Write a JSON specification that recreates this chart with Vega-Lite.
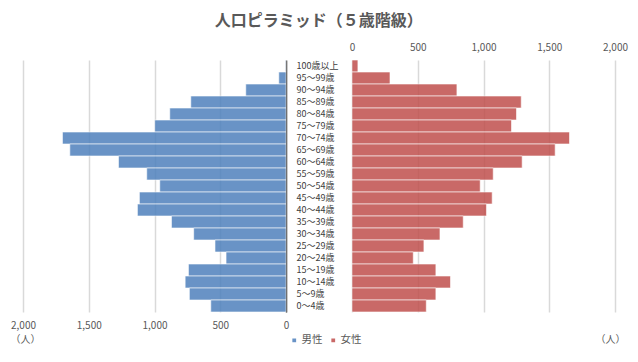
{
  "$schema": "https://vega.github.io/schema/vega-lite/v6.json",
  "background": "white",
  "padding": {"left": 10, "top": 13, "right": 10, "bottom": 8},
  "title": {"text": "人口ピラミッド（５歳階級）", "fontSize": 16, "fontWeight": "bold", "color": "#595959", "font": "Noto Sans CJK JP", "anchor": "middle", "offset": 13},
  "data": {"values": [
    {"age": "100歳以上", "sex": "男性", "count": 3},
    {"age": "95～99歳", "sex": "男性", "count": 55},
    {"age": "90～94歳", "sex": "男性", "count": 306},
    {"age": "85～89歳", "sex": "男性", "count": 724},
    {"age": "80～84歳", "sex": "男性", "count": 884},
    {"age": "75～79歳", "sex": "男性", "count": 998},
    {"age": "70～74歳", "sex": "男性", "count": 1700},
    {"age": "65～69歳", "sex": "男性", "count": 1644},
    {"age": "60～64歳", "sex": "男性", "count": 1274},
    {"age": "55～59歳", "sex": "男性", "count": 1059},
    {"age": "50～54歳", "sex": "男性", "count": 960},
    {"age": "45～49歳", "sex": "男性", "count": 1115},
    {"age": "40～44歳", "sex": "男性", "count": 1130},
    {"age": "35～39歳", "sex": "男性", "count": 871},
    {"age": "30～34歳", "sex": "男性", "count": 702},
    {"age": "25～29歳", "sex": "男性", "count": 540},
    {"age": "20～24歳", "sex": "男性", "count": 456},
    {"age": "15～19歳", "sex": "男性", "count": 742},
    {"age": "10～14歳", "sex": "男性", "count": 767},
    {"age": "5～9歳", "sex": "男性", "count": 735},
    {"age": "0～4歳", "sex": "男性", "count": 572},
    {"age": "100歳以上", "sex": "女性", "count": 45},
    {"age": "95～99歳", "sex": "女性", "count": 289},
    {"age": "90～94歳", "sex": "女性", "count": 798},
    {"age": "85～89歳", "sex": "女性", "count": 1287},
    {"age": "80～84歳", "sex": "女性", "count": 1251},
    {"age": "75～79歳", "sex": "女性", "count": 1213},
    {"age": "70～74歳", "sex": "女性", "count": 1654},
    {"age": "65～69歳", "sex": "女性", "count": 1545},
    {"age": "60～64歳", "sex": "女性", "count": 1294},
    {"age": "55～59歳", "sex": "女性", "count": 1074},
    {"age": "50～54歳", "sex": "女性", "count": 975},
    {"age": "45～49歳", "sex": "女性", "count": 1066},
    {"age": "40～44歳", "sex": "女性", "count": 1023},
    {"age": "35～39歳", "sex": "女性", "count": 846},
    {"age": "30～34歳", "sex": "女性", "count": 669},
    {"age": "25～29歳", "sex": "女性", "count": 547},
    {"age": "20～24歳", "sex": "女性", "count": 466},
    {"age": "15～19歳", "sex": "女性", "count": 638},
    {"age": "10～14歳", "sex": "女性", "count": 749},
    {"age": "5～9歳", "sex": "女性", "count": 638},
    {"age": "0～4歳", "sex": "女性", "count": 565}
  ]},
  "spacing": 66,
  "bounds": "flush",
  "config": {
    "font": "Noto Sans CJK JP",
    "view": {"stroke": null},
    "axis": {"labelFont": "Noto Sans CJK JP", "labelFontSize": 10, "labelColor": "#595959", "labelFlush": false, "titleFont": "Noto Sans CJK JP", "titleFontSize": 10, "titleFontWeight": "normal", "titleColor": "#595959", "gridColor": "#d9d9d9", "gridWidth": 1.5}
  },
  "hconcat": [
    {
      "width": 263,
      "height": 252,
      "transform": [{"filter": "datum.sex === '男性'"}],
      "mark": {"type": "bar", "opacity": 0.85, "stroke": "white", "strokeOpacity": 0.6, "strokeWidth": 1},
      "encoding": {
        "y": {"field": "age", "type": "nominal", "sort": null, "scale": {"paddingInner": 0, "paddingOuter": 0},
              "axis": {"orient": "right", "labels": false, "ticks": false, "domainColor": "#404040", "domainWidth": 1.5, "title": null}},
        "x": {"field": "count", "type": "quantitative", "scale": {"domain": [0, 2000], "reverse": true},
              "axis": {"orient": "bottom", "values": [0, 500, 1000, 1500, 2000], "format": ",d", "domain": false, "ticks": false, "labelPadding": 8, "title": "（人）", "titleX": -13, "titleAlign": "left", "titlePadding": 4}},
        "color": {"field": "sex", "type": "nominal", "scale": {"domain": ["男性", "女性"], "range": ["#4F81BD", "#C0504D"]},
                  "legend": {"orient": "none", "legendX": 266, "legendY": 275, "direction": "horizontal", "title": null, "symbolType": "square", "symbolSize": 28, "symbolOpacity": 0.85, "labelFontSize": 10.5, "labelColor": "#595959", "labelFont": "Noto Sans CJK JP", "columnPadding": 4, "labelOffset": 2}}
      }
    },
    {
      "width": 263,
      "height": 252,
      "transform": [{"filter": "datum.sex === '女性'"}],
      "layer": [
        {
          "mark": {"type": "bar", "opacity": 0.85, "stroke": "white", "strokeOpacity": 0.6, "strokeWidth": 1},
          "encoding": {
            "y": {"field": "age", "type": "nominal", "sort": null, "scale": {"paddingInner": 0, "paddingOuter": 0},
                  "axis": {"orient": "left", "ticks": false, "domain": false, "labelAlign": "left", "labelPadding": 56, "labelColor": "#404040", "labelFontSize": 9, "title": null}},
            "x": {"field": "count", "type": "quantitative", "scale": {"domain": [0, 2000]},
                  "axis": {"orient": "top", "values": [0, 500, 1000, 1500, 2000], "format": ",d", "domain": false, "ticks": false, "labelPadding": 8, "title": null}},
            "color": {"field": "sex", "type": "nominal"}
          }
        },
        {
          "mark": {"type": "bar", "opacity": 0},
          "encoding": {
            "y": {"field": "age", "type": "nominal", "sort": null},
            "x": {"field": "count", "type": "quantitative",
                  "axis": {"orient": "bottom", "labels": false, "grid": false, "domain": false, "ticks": false, "title": "（人）", "titleX": 273, "titleAlign": "right", "titlePadding": 22}}
          }
        }
      ],
      "resolve": {"axis": {"x": "independent"}}
    }
  ]
}
